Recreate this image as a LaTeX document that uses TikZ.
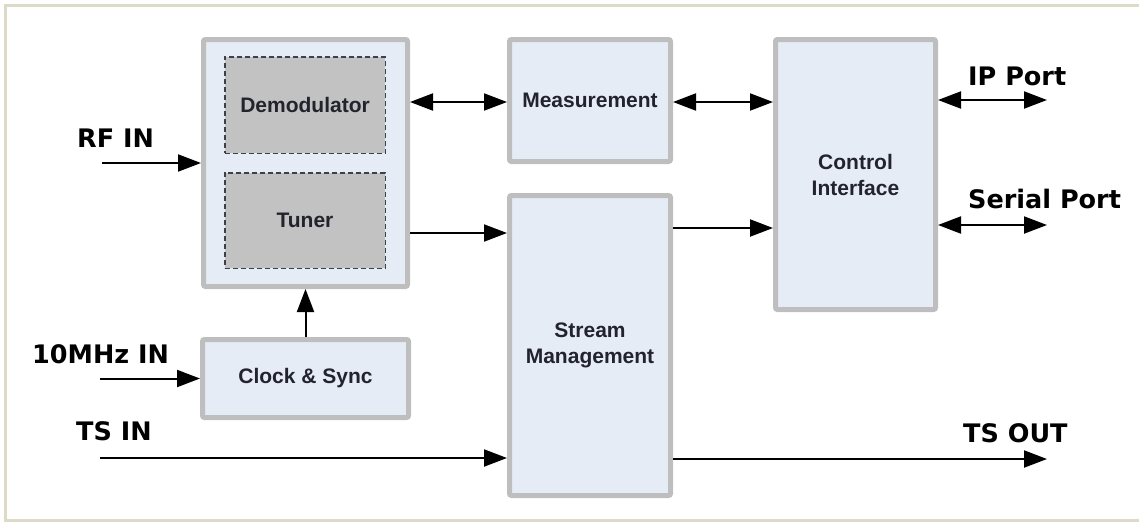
\documentclass[tikz,border=0pt]{standalone}
\usepackage{fontspec}
\newfontfamily\labfont{DejaVu Sans}
\newfontfamily\boxfont{Liberation Sans}
\usetikzlibrary{arrows.meta}
\definecolor{framec}{HTML}{DEDAC8}
\definecolor{boxfill}{HTML}{E6ECF6}
\definecolor{boxline}{HTML}{BEBEBE}
\definecolor{innerfill}{HTML}{C2C2C2}
\definecolor{innerline}{HTML}{3C4048}
\definecolor{txt}{HTML}{22232C}
\tikzset{
  blk/.style={draw=boxline, fill=boxfill, line width=5pt, rounded corners=2pt,
    inner sep=0pt, font=\boxfont\bfseries\fontsize{21}{26}\selectfont, text=txt, align=center},
  inblk/.style={draw=innerline, fill=innerfill, line width=1.5pt, dash pattern=on 5pt off 3pt,
    inner sep=0pt, font=\boxfont\bfseries\fontsize{21}{26}\selectfont, text=txt, align=center},
  lab/.style={anchor=base west, inner sep=0pt, font=\labfont\bfseries\fontsize{25.5}{30}\selectfont, text=black},
  arr/.style={line width=2pt, -{Triangle[length=23pt,width=17pt]}},
  barr/.style={line width=2pt, {Triangle[length=23pt,width=17pt]}-{Triangle[length=23pt,width=17pt]}}
}
\begin{document}
\begin{tikzpicture}[x=1pt,y=-1pt]
\useasboundingbox (0,0) rectangle (1139,523);
\draw[framec, line width=3pt] (1139,5) -- (5,5) -- (5,520) -- (1139,520);

% blocks
\node[blk, minimum width=204pt, minimum height=247pt] (cont) at (305.5,163) {};
\node[inblk, minimum width=160.5pt, minimum height=96.5pt] (demod) at (305,105) {Demodulator};
\node[inblk, minimum width=160.5pt, minimum height=95.5pt] (tuner) at (305,220.5) {Tuner};
\node[blk, minimum width=161pt, minimum height=122pt] (meas) at (590,100.5) {Measurement};
\node[blk, minimum width=161pt, minimum height=300pt] (stream) at (590,345.5) {Stream\\Management};
\node[blk, minimum width=160pt, minimum height=270pt] (ctrl) at (855.5,174.5) {Control\\Interface};
\node[blk, minimum width=206pt, minimum height=78pt] (clock) at (305.5,378.5) {Clock \& Sync};

% labels
\node[lab] (rfin) at (77,147) {RF IN};
\node[lab] (mhz) at (32,363) {10MHz IN};
\node[lab] (tsin) at (76,440) {TS IN};
\node[lab] (tsout) at (963,442) {TS OUT};
\node[lab] (ip) at (968,85) {IP Port};
\node[lab] (serial) at (968,208) {Serial Port};

% helper coordinates
\coordinate (rfs) at (102,163);
\coordinate (mhzs) at (100,378.5);
\coordinate (tss) at (100,458);
\coordinate (tse) at (1047,459);
\coordinate (ipe) at (1047,100);
\coordinate (sere) at (1047,225);
\coordinate (ya) at (0,102);
\coordinate (yb) at (0,233);
\coordinate (yc) at (0,228);

% connectors
\draw[arr] (rfs) -- (cont.west);
\draw[barr] (cont.east |- ya) -- (meas.west |- ya);
\draw[barr] (meas.east |- ya) -- (ctrl.west |- ya);
\draw[arr] (cont.east |- yb) -- (stream.west |- yb);
\draw[arr] (stream.east |- yc) -- (ctrl.west |- yc);
\draw[barr] (ctrl.east |- ipe) -- (ipe);
\draw[barr] (ctrl.east |- sere) -- (sere);
\draw[arr] (clock.north) -- (cont.south);
\draw[arr] (mhzs) -- (clock.west);
\draw[arr] (tss) -- (stream.west |- tss);
\draw[arr] (stream.east |- tse) -- (tse);
\end{tikzpicture}
\end{document}
